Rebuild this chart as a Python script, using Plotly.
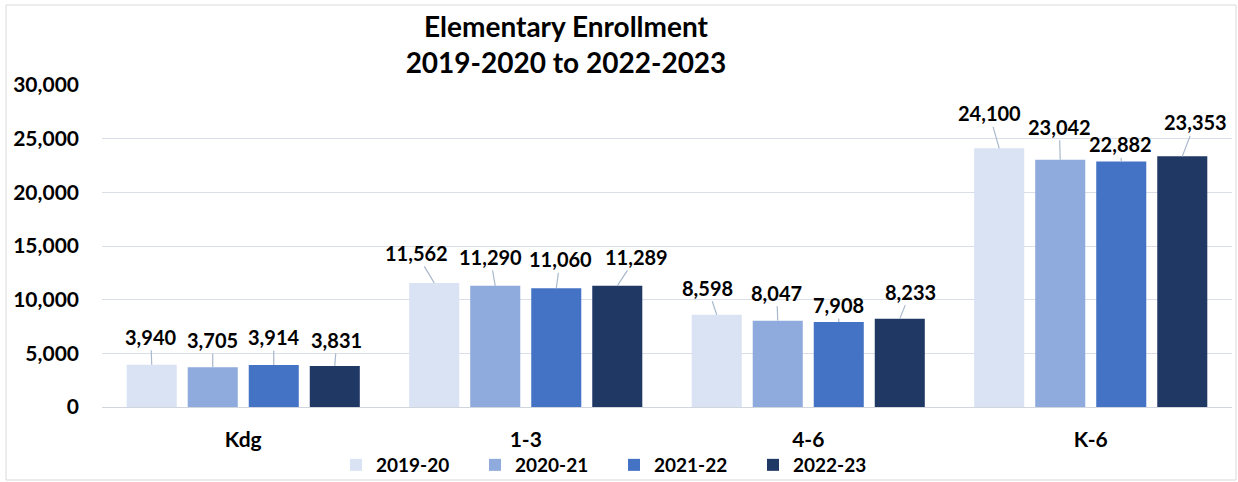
import plotly.graph_objects as go

categories = ["Kdg", "1-3", "4-6", "K-6"]
series_names = ["2019-20", "2020-21", "2021-22", "2022-23"]
v_2019_20 = [3940, 11562, 8598, 24100]
v_2020_21 = [3705, 11290, 8047, 23042]
v_2021_22 = [3914, 11060, 7908, 22882]
v_2022_23 = [3831, 11289, 8233, 23353]
y_ticks = [0, 5000, 10000, 15000, 20000, 25000, 30000]

series_values = [v_2019_20, v_2020_21, v_2021_22, v_2022_23]
colors = ["#dae3f3", "#8faadc", "#4472c4", "#203864"]

# label offsets (pixels) for the leader-line labels, per series per category
label_dx = [[-1, -18, -9, -10], [0, -5, -1, -1], [0, 4, 0, -1], [2, 19, 11, 13]]
label_dy = [[-28, -30, -27, -35], [-27, -29, -28, -33], [-28, -29, -17, -17], [-26, -29, -27, -34]]

W, H = 1238, 482
ML, MR, MT, MB = 102, 6, 85, 75
BARGAP = 0.136
BARGROUPGAP = 0.18
FONT = "Lato, 'Open Sans', sans-serif"

xpos = list(range(len(categories)))
fig = go.Figure()
for name, vals, col in zip(series_names, series_values, colors):
    fig.add_trace(go.Bar(x=xpos, y=vals, name=name, marker=dict(color=col, line=dict(width=0))))

slot = (1 - BARGAP) / len(series_names)
ann = []
for i, vals in enumerate(series_values):
    for j, v in enumerate(vals):
        ann.append(dict(
            x=j + (i - (len(series_names) - 1) / 2) * slot, y=v, xref="x", yref="y",
            text=f"{v:,}", showarrow=True, arrowhead=0, arrowwidth=1.2, arrowcolor="#a9b8cc",
            ax=label_dx[i][j], ay=label_dy[i][j], standoff=0,
            font=dict(family=FONT, size=20, color="#000000", weight="bold")))

pw = W - ML - MR
ph = H - MT - MB
fig.add_shape(type="rect", xref="paper", yref="paper",
              x0=(6 - ML) / pw, x1=(W - 2 - ML) / pw,
              y0=-(H - 2 - MT - ph) / ph, y1=(ph + MT - 5) / ph,
              line=dict(color="#d9d9d9", width=1), layer="below")

fig.update_layout(
    width=W, height=H,
    margin=dict(l=ML, r=MR, t=MT, b=MB, autoexpand=False),
    paper_bgcolor="white", plot_bgcolor="white",
    barmode="group", bargap=BARGAP, bargroupgap=BARGROUPGAP,
    title=dict(text="Elementary Enrollment<br>2019-2020 to 2022-2023",
               x=566 / W, xanchor="center", y=1 - 37 / H, yanchor="middle",
               font=dict(family=FONT, size=28, color="#000000", weight="bold")),
    xaxis=dict(tickvals=xpos, ticktext=categories, range=[-0.5, len(categories) - 0.5],
               showgrid=False, zeroline=False, showline=False, ticks="",
               ticklabelstandoff=18,
               tickfont=dict(family=FONT, size=21, color="#000000", weight="bold")),
    yaxis=dict(range=[0, 30000], tickvals=y_ticks, ticktext=[f"{t:,}" for t in y_ticks],
               showgrid=True, gridcolor="#d9dee8", gridwidth=1.3,
               zeroline=True, zerolinecolor="#d0d5de", zerolinewidth=1.3,
               ticks="", ticklabelstandoff=22,
               tickfont=dict(family=FONT, size=21, color="#000000", weight="bold")),
    legend=dict(orientation="h", x=(614 - ML) / pw, xanchor="center",
                y=-58 / ph, yanchor="middle", entrywidth=94, entrywidthmode="pixels",
                traceorder="normal", bgcolor="rgba(0,0,0,0)",
                font=dict(family=FONT, size=19, color="#000000", weight="bold")),
    annotations=ann,
    showlegend=True,
)

fig.write_html("out.html", config={"displayModeBar": False},
               post_script="document.body.style.margin='0';document.body.style.overflow='hidden';")
